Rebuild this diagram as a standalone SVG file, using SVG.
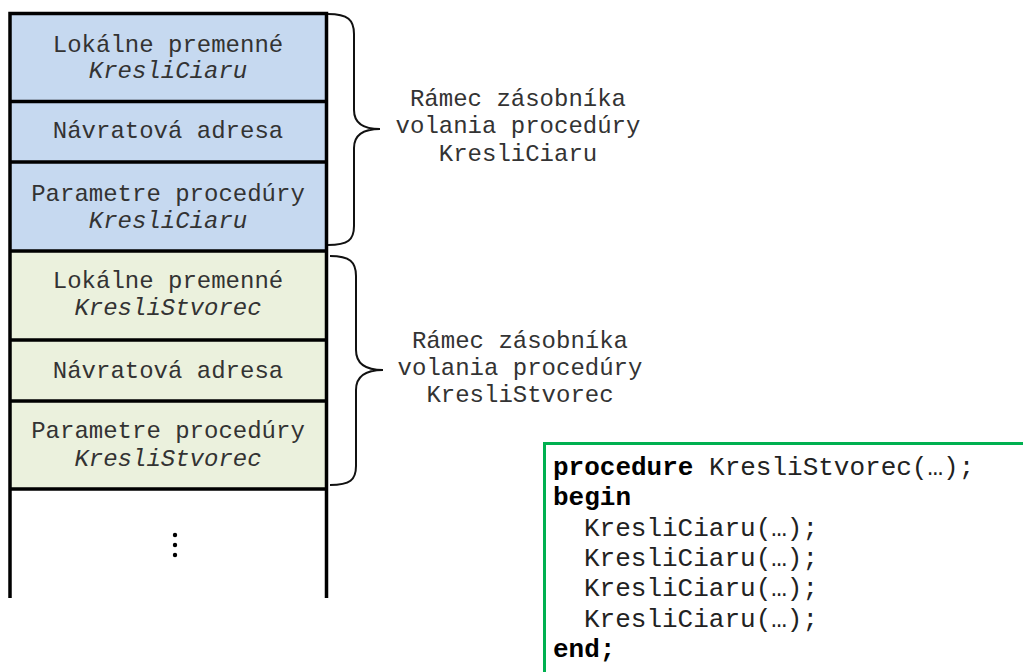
<svg xmlns="http://www.w3.org/2000/svg" width="1023" height="672" viewBox="0 0 1023 672">
<style>
.t{font-family:"Liberation Mono","Courier New",monospace;font-size:24px;fill:#333;text-anchor:middle}
.i{font-style:italic}
.c{font-family:"Liberation Mono","Courier New",monospace;font-size:26px;fill:#222}
.b{font-weight:bold;fill:#000}
.ln{stroke:#000;stroke-width:3.5;fill:none}
.br{stroke:#111;stroke-width:2;fill:none}
.blue{fill:#c6d9f0}
.green{fill:#ebf1dd}
</style>
<rect width="1023" height="672" fill="#fff"/>
<g id="stack">
<rect class="blue" x="10" y="13" width="316" height="238"/>
<rect class="green" x="10" y="251" width="316" height="238"/>
<path class="ln" d="M10,598 V13.5 H326.5 V598"/>
<path class="ln" d="M10,101.5 H326.5 M10,162 H326.5 M10,251 H326.5 M10,340 H326.5 M10,401 H326.5 M10,489 H326.5"/>
</g>
<g id="n1"><text class="t" x="168" y="52">Lokálne premenné</text><text class="t i" x="168" y="78">KresliCiaru</text></g>
<g id="n2"><text class="t" x="168" y="138">Návratová adresa</text></g>
<g id="n3"><text class="t" x="168" y="201">Parametre procedúry</text><text class="t i" x="168" y="228">KresliCiaru</text></g>
<g id="n4"><text class="t" x="168" y="288">Lokálne premenné</text><text class="t i" x="168" y="315">KresliStvorec</text></g>
<g id="n5"><text class="t" x="168" y="378">Návratová adresa</text></g>
<g id="n6"><text class="t" x="168" y="438">Parametre procedúry</text><text class="t i" x="168" y="466">KresliStvorec</text></g>
<g id="dots" fill="#000"><circle cx="175" cy="535" r="2.2"/><circle cx="175" cy="545" r="2.2"/><circle cx="175" cy="555" r="2.2"/></g>
<g id="connectors">
<path class="br" d="M328,14 C348,14 354,20 354,34 V110 C354,122 362,129 380,129 C362,129 354,136 354,148 V226 C354,240 348,245 328,245"/>
<path class="br" d="M330,256 C350,256 356,262 356,276 V350 C356,362 364,370 383,370 C364,370 356,378 356,390 V466 C356,480 350,485 330,485"/>
</g>
<g id="label1"><text class="t" x="518" y="106">Rámec zásobníka</text><text class="t" x="518" y="133">volania procedúry</text><text class="t" x="518" y="161">KresliCiaru</text></g>
<g id="label2"><text class="t" x="520" y="348">Rámec zásobníka</text><text class="t" x="520" y="375">volania procedúry</text><text class="t" x="520" y="402">KresliStvorec</text></g>
<g id="code">
<rect x="544.5" y="443.5" width="485" height="240" fill="#fff" stroke="#00b050" stroke-width="3"/>
<text class="c" x="553" y="475"><tspan class="b">procedure</tspan> KresliStvorec(…);</text>
<text class="c b" x="553" y="505">begin</text>
<text class="c" x="584" y="536">KresliCiaru(…);</text>
<text class="c" x="584" y="566">KresliCiaru(…);</text>
<text class="c" x="584" y="596">KresliCiaru(…);</text>
<text class="c" x="584" y="627">KresliCiaru(…);</text>
<text class="c b" x="553" y="657">end;</text>
</g>
</svg>
